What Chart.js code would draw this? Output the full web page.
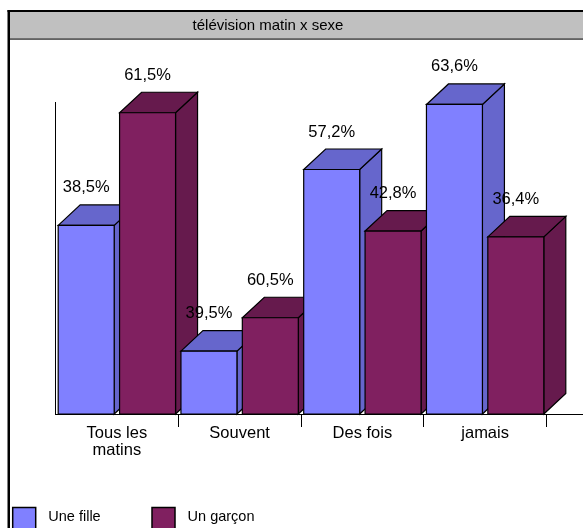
<!DOCTYPE html>
<html>
<head>
<meta charset="utf-8">
<script src="https://cdn.jsdelivr.net/npm/chart.js@4.4.1/dist/chart.umd.min.js"></script>
<style>
  html, body { margin: 0; padding: 0; background: #fff; overflow: hidden; }
  canvas { display: block; }
</style>
</head>
<body>
<canvas id="chart" width="583" height="528"></canvas>
<script>
// ---- data ----
const chartTitle = 'télévision matin x sexe';
const categories = [['Tous les', 'matins'], 'Souvent', 'Des fois', 'jamais'];
const seriesNames = ['Une fille', 'Un garçon'];
// share of each sex within a category (%)
const fillePct = [38.5, 39.5, 57.2, 63.6];
const garconPct = [61.5, 60.5, 42.8, 36.4];
// respondents per category
const effectifs = [157, 51, 137, 156];
const valueMax = 100;

// ---- styling ----
const FONT = "'Liberation Sans', Arial, Helvetica, sans-serif";
const frontColors = ['#8080FF', '#802060'];
const shadeColors = ['#6666CC', '#661A4D'];
const DEPTH_X = 22, DEPTH_Y = -20.5;

const pctBySeries = [fillePct, garconPct];
const countsBySeries = pctBySeries.map(p => p.map((v, i) => effectifs[i] * v / 100));

function fmtPct(v) { return v.toFixed(1).replace('.', ',') + '%'; }

function poly(ctx, pts, fill) {
  ctx.beginPath();
  ctx.moveTo(pts[0][0], pts[0][1]);
  for (let k = 1; k < pts.length; k++) ctx.lineTo(pts[k][0], pts[k][1]);
  ctx.closePath();
  ctx.fillStyle = fill;
  ctx.fill();
  ctx.stroke();
}

const columns3d = {
  id: 'columns3d',
  beforeDraw(chart) {
    const { ctx, width, height } = chart;
    ctx.save();
    ctx.fillStyle = '#fff';
    ctx.fillRect(0, 0, width, height);
    // title band
    ctx.fillStyle = '#c0c0c0';
    ctx.fillRect(9, 11, width, 28);
    ctx.fillStyle = '#000';
    ctx.fillRect(7.5, 10, width, 2);
    ctx.fillRect(7.5, 10, 2.5, height);
    ctx.fillStyle = '#222';
    ctx.fillRect(10, 38.5, width, 1.2);
    ctx.font = '15px ' + FONT;
    ctx.textAlign = 'center';
    ctx.textBaseline = 'middle';
    ctx.fillStyle = '#000';
    ctx.fillText(chartTitle, 268, 25.5);
    ctx.restore();
  },
  beforeDatasetsDraw(chart) {
    const { ctx } = chart;
    const items = [];
    chart.data.datasets.forEach((ds, di) => {
      chart.getDatasetMeta(di).data.forEach((bar, i) => {
        items.push({ p: bar.getProps(['x', 'y', 'base', 'width'], true), di, i });
      });
    });
    // paint left to right so each column hides the side of the one before it
    items.sort((a, b) => a.p.x - b.p.x);
    ctx.save();
    ctx.strokeStyle = '#000';
    ctx.lineWidth = 1.2;
    ctx.lineJoin = 'miter';
    items.forEach(({ p, di }) => {
      const x0 = p.x - p.width / 2, x1 = p.x + p.width / 2;
      const yt = p.y, yb = p.base;
      // side face
      poly(ctx, [[x1, yt], [x1 + DEPTH_X, yt + DEPTH_Y], [x1 + DEPTH_X, yb + DEPTH_Y], [x1, yb]], shadeColors[di]);
      // top face
      poly(ctx, [[x0, yt], [x0 + DEPTH_X, yt + DEPTH_Y], [x1 + DEPTH_X, yt + DEPTH_Y], [x1, yt]], shadeColors[di]);
      // front face
      poly(ctx, [[x0, yt], [x1, yt], [x1, yb], [x0, yb]], frontColors[di]);
    });
    // percentage labels
    ctx.font = '16.5px ' + FONT;
    ctx.textAlign = 'center';
    ctx.textBaseline = 'middle';
    ctx.fillStyle = '#000';
    items.forEach(({ p, di, i }) => {
      ctx.fillText(fmtPct(pctBySeries[di][i]), p.x, p.y - 37.5);
    });
    ctx.restore();
    return false;
  },
  afterDraw(chart) {
    const { ctx, width } = chart;
    const xs = chart.scales.x;
    ctx.save();
    // floor edge continues past the last category
    ctx.strokeStyle = '#000';
    ctx.lineWidth = 1;
    ctx.beginPath();
    ctx.moveTo(xs.right, Math.round(xs.top) + 0.5);
    ctx.lineTo(width, Math.round(xs.top) + 0.5);
    ctx.stroke();
    // legend
    ctx.font = '14.5px ' + FONT;
    ctx.textAlign = 'left';
    ctx.textBaseline = 'alphabetic';
    chart.data.datasets.forEach((ds, di) => {
      const bx = 12.7 + di * 139.3;
      ctx.fillStyle = frontColors[di];
      ctx.fillRect(bx, 507.5, 23, 23);
      ctx.lineWidth = 1.5;
      ctx.strokeStyle = '#000';
      ctx.strokeRect(bx, 507.5, 23, 23);
      ctx.fillStyle = '#000';
      ctx.fillText(ds.label, bx + 35.6, 521);
    });
    ctx.restore();
  }
};

new Chart(document.getElementById('chart'), {
  type: 'bar',
  data: {
    labels: categories,
    datasets: seriesNames.map((name, di) => ({
      label: name,
      data: countsBySeries[di],
      backgroundColor: frontColors[di],
      borderColor: '#000',
      borderWidth: 1,
      categoryPercentage: 1.0,
      barPercentage: 0.912
    }))
  },
  options: {
    responsive: false,
    animation: false,
    events: [],
    layout: { padding: { top: 102, right: 36.5, bottom: 0, left: 0 } },
    plugins: { legend: { display: false }, title: { display: false }, tooltip: { enabled: false } },
    scales: {
      x: {
        grid: {
          display: true,
          drawOnChartArea: false,
          drawTicks: true,
          tickLength: 13,
          offset: true,
          color: c => (c.index === 0 ? 'rgba(0,0,0,0)' : '#000')
        },
        border: { display: true, color: '#000', width: 1 },
        ticks: {
          color: '#000',
          font: { family: FONT, size: 16.5, lineHeight: 1.05 },
          padding: -2.5,
          maxRotation: 0,
          autoSkip: false
        },
        afterFit(s) { s.height = 114; }
      },
      y: {
        min: 0,
        max: valueMax,
        ticks: { display: false },
        grid: { display: false },
        border: { display: true, color: '#000', width: 1 },
        afterFit(s) { s.width = 55.5; }
      }
    }
  },
  plugins: [columns3d]
});
</script>
</body>
</html>
